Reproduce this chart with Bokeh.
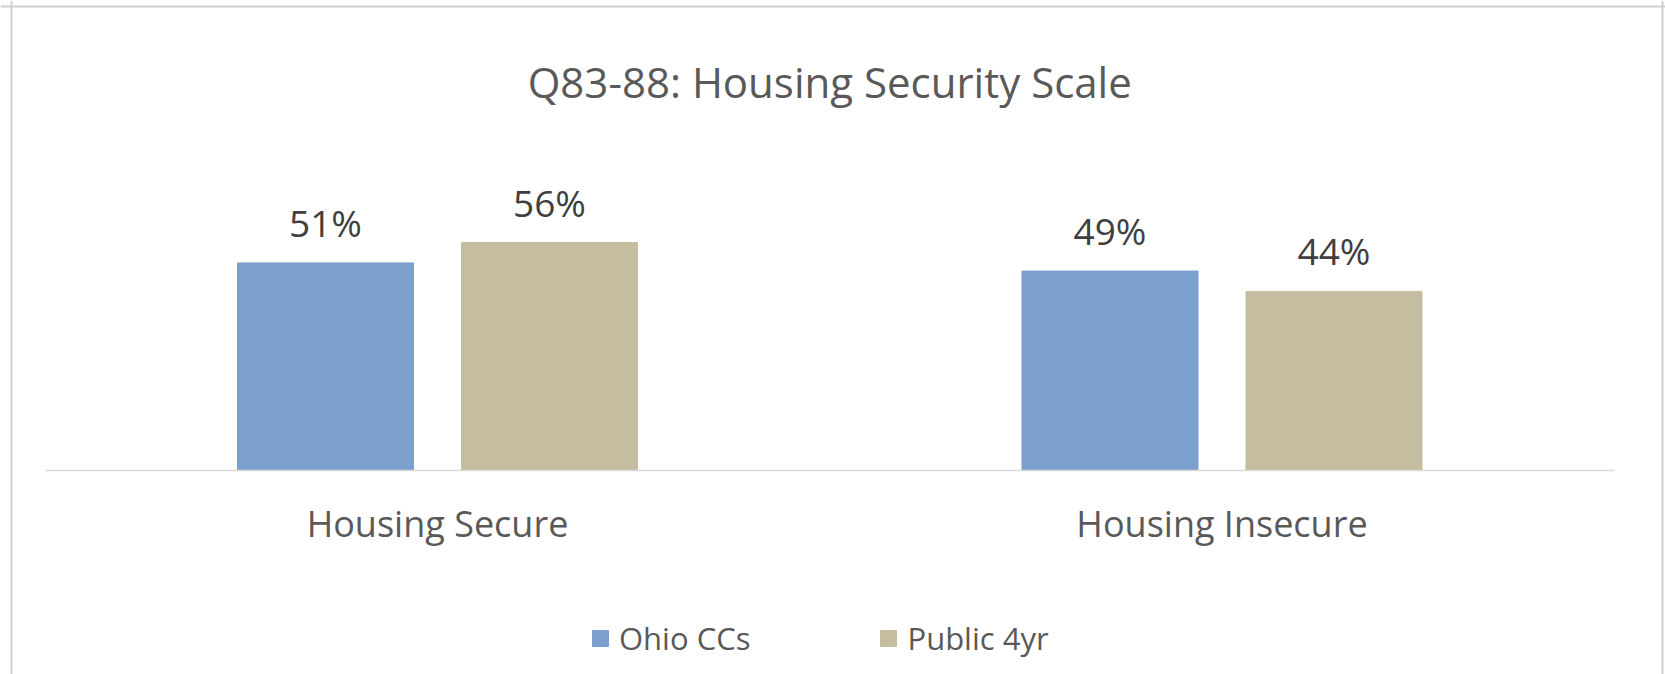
from bokeh.plotting import figure
from bokeh.models import (ColumnDataSource, LinearAxis, FixedTicker, Range1d,
                          Legend, LegendItem, LabelSet, Label, Span)
from bokeh.transform import dodge
from bokeh.core.properties import value
from bokeh.embed import file_html
from bokeh.resources import INLINE

# ---- data ----
categories = ["Housing Secure", "Housing Insecure"]
series_names = ["Ohio CCs", "Public 4yr"]
ohio_ccs = [51, 49]
public_4yr = [56, 44]
title_text = "Q83-88: Housing Security Scale"

# ---- style ----
colors = ["#7BA0CD", "#C4BD9F"]
FONT = "Open Sans"
TXT = "#595959"
LBL = "#404040"
BORDER = "#d0d0d0"

W, H = 1665, 674
cat0_px, cat_px = 437.0, 784.5
zero_px, px_per_pct = 470.0, 4.07

def xd(px):
    return (px - cat0_px) / cat_px

def yd(py):
    return (zero_px - py) / px_per_pct

off = 112.0 / cat_px
bw = 176.0 / cat_px

idx = list(range(len(categories)))
src = ColumnDataSource(dict(
    idx=idx, cat=categories, ohio=ohio_ccs, pub=public_4yr,
    ohio_lbl=[f"{v}%" for v in ohio_ccs], pub_lbl=[f"{v}%" for v in public_4yr]))

p = figure(width=W, height=H, x_range=Range1d(xd(0), xd(W)),
           y_range=Range1d(yd(H), yd(0)), x_axis_type=None, y_axis_type=None,
           output_backend="svg", toolbar_location=None,
           min_border_left=0, min_border_right=0, min_border_top=0, min_border_bottom=0)
p.title.visible = False
p.xgrid.visible = False
p.ygrid.visible = False
p.outline_line_color = None
p.background_fill_color = "white"
p.border_fill_color = "white"

# chart-area border (left, right, top)
p.add_layout(Span(location=xd(11), dimension="height", line_color=BORDER, line_width=2))
p.add_layout(Span(location=xd(1662), dimension="height", line_color=BORDER, line_width=2))
p.add_layout(Span(location=yd(6), dimension="width", line_color=BORDER, line_width=2))

r1 = p.vbar(x=dodge('idx', -off), top='ohio', bottom=0, width=bw, source=src,
            fill_color=colors[0], line_color=colors[0])
r2 = p.vbar(x=dodge('idx', off), top='pub', bottom=0, width=bw, source=src,
            fill_color=colors[1], line_color=colors[1])

for col, lab, o in (("ohio", "ohio_lbl", -off), ("pub", "pub_lbl", off)):
    p.add_layout(LabelSet(x=dodge('idx', o), y=col, text=lab, source=src,
                          y_offset=26, text_align="center", text_baseline="alphabetic",
                          text_font=value(FONT), text_font_size=value("37px"),
                          text_color=LBL))

p.add_layout(Label(x=(len(categories) - 1) / 2, y=yd(81),
                   text=title_text, text_font=FONT, text_font_size="42px",
                   text_color=TXT, text_align="center", text_baseline="alphabetic"))

ax = LinearAxis(fixed_location=0, ticker=FixedTicker(ticks=idx),
                major_label_overrides={i: c for i, c in enumerate(categories)},
                bounds=(-0.5, len(categories) - 0.5),
                axis_line_color="#d9d9d9", axis_line_width=1.5,
                major_tick_line_color=None, minor_tick_line_color=None,
                major_label_text_font=FONT, major_label_text_font_size="36px",
                major_label_text_color=TXT, major_label_standoff=22)
p.add_layout(ax, "below")

legend = Legend(items=[LegendItem(label=series_names[0], renderers=[r1]),
                       LegendItem(label=series_names[1], renderers=[r2])],
                orientation="horizontal", location=(590, 15),
                glyph_width=20, glyph_height=20, label_standoff=9, spacing=128,
                padding=0, margin=0, border_line_color=None,
                background_fill_alpha=0, label_text_font=FONT,
                label_text_font_size="31px", label_text_color=TXT)
p.add_layout(legend, "center")

open("out.html", "w").write(file_html(p, INLINE))
